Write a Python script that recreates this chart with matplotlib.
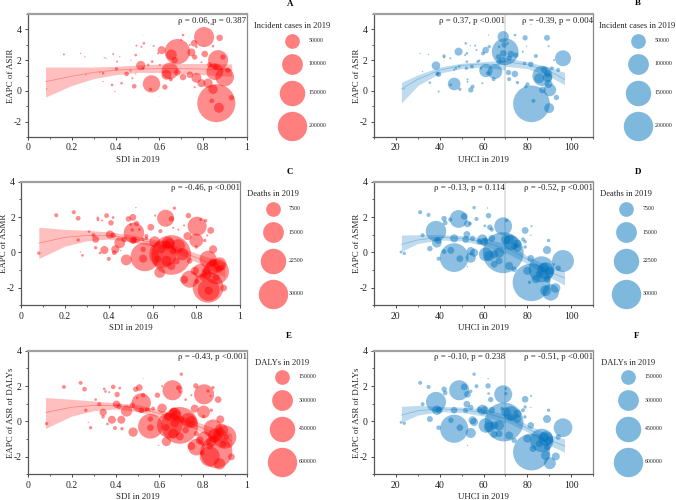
import numpy as np
import matplotlib
matplotlib.use('Agg')
import matplotlib.pyplot as plt

plt.rcParams['font.family'] = ['Liberation Serif', 'DejaVu Serif']
plt.rcParams['axes.unicode_minus'] = False

# A: incident cases / SDI
a_x = [.86, .682, .868, .804, .898, .853, .564, .648, .632, .515, .655, .61, .67, .746, .761, .758, .807, .872, .929, .845,
       .822, .792, .769, .739, .708, .682, .875, .89, .913, .83, .857, .625, .485, .45, .839, .652, .427, .559,
       .164, .24, .26, .264, .085, .283, .305, .328, .343, .348, .356, .389, .343, .384, .397, .404, .407, .419, .47, .492,
       .495, .518, .529, .526, .574, .477, .492, .468, .526, .549, .567, .594, .599, .602, .708, .70, .739, .769, .837, .845, .792, .761]
a_y = [-.8, 2.55, 2.0, 3.5, .9, 1.25, .45, 1.3, 1.05, 1.65, 2.35, 2.65, 2.0, 2.5, 2.2, 3.1, 2.4, -1.1, -.45, .1,
       .5, .5, .85, 1.05, .9, 1.2, 3.45, 2.2, 1.35, 1.7, 1.55, .25, .3, 1.1, -.65, .75, .5, .1,
       2.37, 2.44, 2.22, 1.04, .13, .13, 1.58, 1.21, 1.15, 2.16, 2.12, 2.4, .61, .39, -.04, 1.43, 1.9, 2.22, 2.0, 2.33,
       2.94, 2.87, 3.09, 3.63, 2.92, .82, 1.1, 1.32, 1.47, 1.69, 1.9, 2.44, -.36, 1.69, 3.63, 3.31, 2.98, 2.87, 4.34, 2.91, 1.86, .24]
a_size = [335000, 149000, 93000, 93000, 81000, 65000, 70000, 65000, 23000, 20000, 26000, 15000, 10000, 15000, 6600, 10000, 10000, 23000, 6600, 20000,
          20000, 15000, 23000, 10000, 10000, 10000, 10000, 6600, 6600, 6600, 6600, 6600, 5000, 5000, 5000, 3700, 1650, 2600,
          930, 400, 400, 400, 400, 100, 100, 400, 1650, 400, 400, 930, 400, 1650, 400, 2600, 930, 400, 400, 1650,
          930, 930, 1650, 100, 930, 930, 400, 930, 1650, 1650, 1650, 930, 100, 930, 1650, 930, 930, 1650, 930, 1650, 930, 930]

# B: incident cases / UHCI
b_x = [81.9, 69.9, 69, 96.3, 86.9, 65.2, 46.6, 61.1, 90.3, 90, 89.2, 89.2, 89.7, 87.7, 85.4, 86.9, 38.3, 48.6, 61, 59.8, 62.6, 69, 72.5, 74.8, 71.7, 69.4,
       79, 89, 83.9, 81.6, 78.7, 89.7, 94.1, 93.3, 82.8, 80.1, 79.3, 92.2, 91.2, 71.4, 74.3, 71.7, 75.5, 74.4, 81.7, 79.6, 77.9, 54.2, 55, 39.5, 39,
       35.5, 32.2, 31.1, 34.9, 42, 42, 44.8, 23.8, 39.5, 45, 49.2, 52.7, 52.7, 51.9, 54, 56.2, 56.8, 52.4, 51.6, 58, 57.3, 58.8, 54.7, 52.2, 47.4, 46.6,
       48.9, 52.4, 62.3, 59.5, 62, 64.6, 52.7, 71, 67.1, 66.8, 67.1, 68.7]
b_y = [-.84, 2.55, 3.52, 2.12, .97, 1.25, .45, 1.32, .06, -1.12, .88, 1.1, .45, 1.36, .82, .06, 1.64, 2.55, 2.65, 2.44, 2.87, 2.44, 2.4, 2.33, 2.12, 2.98,
       3.45, 3.45, 2.27, 1.73, 1.79, 2.91, 1.36, -.43, -.65, .43, .28, 2.0, 1.47, 1.19, 1.1, .76, .54, 3.63, 4.32, 2.91, 2.55, .06, .28, 1.08, 1.1,
       .54, 1.25, 2.44, 2.37, 2.27, 2.18, 2.12, .13, -.04, .39, .11, .6, .75, 3.09, 2.94, 2.94, 2.65, 2.44, 2.33, 1.96, 1.9, 1.47, 1.58, 1.47, 1.47, 1.36,
       1.58, 1.9, 3.63, .5, 1.15, .76, -.41, 3.09, 2.87, 2.22, 1.9, 2.0]
b_size = [311000, 165000, 30000, 59000, 93000, 50000, 37000, 41000, 37000, 23000, 20000, 10000, 15000, 10000, 23000, 10000, 17000, 15000, 10000, 3700, 2600, 10000, 10000, 6600, 6600, 6600,
          6600, 8300, 3700, 6600, 2600, 930, 3700, 6600, 3700, 3700, 2600, 930, 3700, 6600, 10000, 3700, 2600, 1650, 400, 400, 930, 6600, 3700, 6600, 3700,
          1650, 400, 400, 400, 2600, 930, 930, 400, 930, 1650, 2600, 930, 930, 1650, 400, 930, 930, 1650, 930, 1650, 1650, 1650, 3700, 2600, 1650, 930,
          1650, 1650, 400, 930, 3700, 3700, 100, 1650, 1650, 6600, 6600, 10000]

# C: deaths / SDI
c_x = [.08, .16, .24, .26, .26, .27, .28, .31, .33, .34, .34, .35, .35, .36, .37, .38, .39, .4, .41, .42, .405, .42, .43, .425, .45, .455, .48, .47,
       .515, .51, .49, .5, .527, .507, .524, .516, .54, .557, .565, .557, .572, .592, .61, .633, .636, .612, .66, .686, .686, .648, .671, .679, .664, .686,
       .70, .695, .718, .744, .717, .737, .76, .764, .744, .77, .804, .80, .80, .82, .843, .866, .85, .839, .877, .854, .892, .854, .857, .857, .925,
       .907, .877, .816, .793, .846, .904, .915, .804, .77, .557, .572, .511, .64, .664, .694, .625, .709, .846, .877, .83, .892]
c_y = [-.05, 2.1, 2.27, 1.93, .7, .02, -.17, 1.18, .97, .73, .26, 1.95, 1.84, -.04, 1.8, .13, 2.08, -.37, 1.67, 1.97, 1.01, .97, .17, -.02, .54, .11, -.43, .73,
       1.1, 1.98, 1.89, 1.57, 1.63, 1.27, 2.53, .73, 1.29, -.36, -.26, .17, .92, 1.42, .6, -1.14, 1.2, 2.08, 1.93, 1.89, -.15, -.11, .54, .49, -.49, -.77,
       2.5, 1.39, 1.29, 1.52, .36, -.11, .92, 2.08, -1.55, -1.52, 1.48, .67, .3, 1.85, 1.8, 1.24, .96, .67, .17, -.39, -1.09, -1.98, -2.13, -2.17, -2.02,
       -.67, -.86, -1.05, -1.05, -1.24, -.96, -.86, -1.65, -.49, .73, .79, .67, .17, .45, .07, -.39, -.49, -1.05, -.58, -1.42, -1.42]
c_size = [400, 580, 580, 800, 400, 65, 260, 260, 580, 1620, 400, 260, 260, 260, 150, 2300, 800, 580, 1040, 260, 2300, 1040, 2300, 800, 4100, 65, 4100, 1040,
          14600, 1620, 1040, 260, 1040, 400, 65, 1040, 260, 2300, 28600, 1040, 580, 1620, 4100, 4100, 580, 150, 10100, 1040, 54500, 26000, 5200, 3600, 3600, 2300,
          400, 150, 150, 150, 6500, 5200, 2300, 1040, 2300, 10100, 12700, 6500, 400, 260, 400, 1620, 150, 400, 2300, 10100, 22000, 32800, 16600, 2300, 1620,
          6500, 6500, 6500, 2300, 3600, 1620, 1040, 800, 1040, 400, 400, 1620, 2300, 2300, 1620, 1620, 1620, 2300, 2300, 1620, 1620]

# D: deaths / UHCI
d_x = [81.9, 69, 46.6, 38.3, 48.6, 69, 96.3, 86.5, 88.4, 90.7, 88.4, 92.9, 61, 62.6, 67.1, 72.5, 71.7, 75.5, 70.2, 59.5, 60.3, 58, 63.8, 54.2, 54.2, 55.7,
       52.4, 51.9, 55, 46.6, 45.1, 49.2, 42, 39.5, 38.7, 39.3, 35.5, 32.2, 31.1, 34.9, 22.3, 23.8, 42, 42.5, 44.8, 51.2, 52.7, 53.9, 55.7, 56.8, 61.8, 62.3,
       60.6, 62.9, 63.8, 61, 64.9, 71.7, 74, 81.6, 80, 83.9, 81, 79, 81.9, 78.1, 79, 81.6, 79, 89.7, 89, 94.1, 92.3, 52.7, 85.4, 89.2, 87.7, 90, 70.5, 67.1, 64.9, 75.5, 74]
d_y = [-1.7, -.02, -.3, 1.2, 1.89, 1.48, -.49, -.96, -1.05, -2.27, -2.17, -2.02, -.11, -.21, -.02, .54, .73, .26, .73, .73, .6, .6, .79, -.3, .07, -.02,
       1.01, .73, .79, .79, .11, -.36, .04, -.36, .54, .67, .21, .97, 2.27, 2.12, .02, -.06, 1.91, 1.67, 1.85, 2.04, 1.61, 1.63, 2.53, 1.89, 2.51, 2.08,
       1.5, 1.42, 1.29, .73, -.67, -.77, -.96, -.34, -1.05, -1.52, -1.7, 1.24, 1.48, .73, .6, .96, .3, .67, .13, -.9, -.67, -.82, -1.24, -1.52, -.86, -1.05, 1.8, -.49, -.11, .49, .36]
d_size = [49000, 58000, 28600, 14600, 11000, 11000, 16600, 23400, 10100, 9300, 4100, 3200, 6500, 3600, 3600, 7800, 3600, 2300, 3200, 3600, 2300, 1040, 1620, 3600, 2300, 2300,
          1620, 1620, 1040, 2300, 1620, 1620, 800, 580, 3200, 1620, 1040, 580, 580, 580, 260, 400, 1040, 800, 580, 1620, 1620, 400, 400, 580, 65, 1040,
          260, 1040, 580, 580, 1620, 2300, 1040, 1620, 2300, 2300, 400, 1620, 150, 580, 400, 65, 400, 400, 2300, 1040, 150, 65, 1620, 1620, 3200, 2300, 400, 1620, 2300, 2300, 1620]

# E: DALYs / SDI
e_x = [.085, .164, .24, .258, .264, .275, .286, .309, .325, .343, .343, .348, .354, .363, .371, .383, .389, .397, .407, .419, .404, .416, .426, .429, .45, .48, .476,
       .517, .508, .492, .498, .526, .526, .518, .541, .559, .559, .559, .571, .591, .612, .632, .612, .597, .66, .688, .70, .693, .72, .746, .693, .647, .67, .678, .663, .693,
       .731, .746, .761, .766, .746, .769, .804, .802, .802, .822, .845, .868, .834, .837, .878, .845, .898, .86, .83, .875, .929, .883, .853, .807, .784, .837, .906, .795, .769, .553,
       .64, .664, .7, .63, .72, .85, .88, .83, .89, .67]
e_y = [-.13, 1.95, 2.18, 1.82, .63, -.06, -.36, 1.23, .97, .51, .25, 1.84, 1.69, -.15, 1.65, .09, 1.95, -.38, 1.52, 1.88, .97, .85, .09, -.42, .59, -.61, .91,
       1.04, 1.91, 1.82, 1.33, 1.48, 2.42, .63, .66, .13, -.28, -.36, .72, 1.48, .74, -1.14, 1.99, -1.36, 1.76, 1.89, 2.67, 1.67, 1.23, 1.48, -.23, -.23, .44, .34, -.7, -.85,
       .06, -.04, .72, 2.01, -1.4, -1.46, 1.53, .53, .28, 1.72, 1.91, 1.23, 1.44, .63, .11, -.42, -.89, -1.74, -1.99, -2.41, -2.01, -.51, -.8, -.98, -1.08, -1.17, -.89, -1.8, -.7, .66,
       .25, .55, .1, -.35, -.5, -1, -.6, -1.4, -1.3, -.1]
e_size = [7800, 11000, 11000, 15000, 7800, 1200, 7800, 5000, 11000, 37500, 7800, 5000, 5000, 5000, 2800, 44600, 15000, 11000, 20000, 5000, 37500, 20000, 44600, 7800, 90000, 60800, 20000,
          260000, 31000, 20000, 5000, 15000, 500, 20000, 11000, 20000, 424000, 31000, 11000, 20000, 60800, 60800, 2800, 1200, 279000, 20000, 7800, 5000, 5000, 2800, 938000, 448000, 100000, 70000, 70000, 44600,
          150000, 100000, 44600, 20000, 44600, 194000, 279000, 112000, 7800, 7800, 7800, 31000, 2800, 7800, 44600, 243000, 380000, 714000, 279000, 90000, 31000, 124000, 124000, 150000, 44600, 70000, 20000, 15000, 20000, 7800,
          44600, 44600, 31000, 31000, 31000, 44600, 44600, 31000, 31000, 50000]

# F: DALYs / UHCI
f_x = [81.9, 69.4, 46.6, 38.3, 48.9, 69, 96.3, 86.6, 88.4, 90.3, 88.4, 93, 61.1, 62.6, 67.1, 72.5, 70.2, 75.5, 59.5, 60.6, 58, 63.8, 54.2, 55, 55.7,
       52.4, 51.9, 54.2, 46.6, 45.1, 49.2, 38.7, 39.8, 35.5, 32.2, 31.1, 34.9, 22.3, 23.8, 42, 42.5, 39.5, 51.2, 52.7, 54.2, 55.7, 56.8, 62.1, 62.1, 63.3, 62.3,
       64.9, 71.7, 74, 81.6, 80, 82.6, 79, 81.7, 78, 79, 81.6, 78.9, 89.7, 89, 94.1, 52.7, 85.4, 89.2, 87.7, 90, 70.2, 70.2, 67.1, 64.9, 75.5, 72.5, 68.5]
f_y = [-1.74, -.04, -.42, 1.1, 1.76, 1.53, -.36, -1.08, -.98, -2.37, -1.93, -1.99, -.23, -.32, -.23, .44, .53, .15, .66, .63, .66, .63, -.66, .06, -.04,
       .97, .63, .78, .63, .06, -.36, .63, .63, .13, .97, 2.18, 1.95, -.06, -.11, 1.82, 1.61, -.36, 1.95, 1.53, 1.7, 2.67, 1.99, 2.42, 2.01, 1.23, 1.57,
       -.74, -.8, -1.08, -.23, -.98, -1.55, 1.25, 1.44, .63, .81, .78, .25, .63, .13, -.89, -1.36, -1.27, -1.46, -.89, -1.08, 1.57, 1.85, -.7, -.23, .44, .25, .72]
f_size = [938000, 1043000, 547000, 279000, 279000, 226000, 243000, 380000, 150000, 100000, 60800, 44600, 150000, 79000, 70000, 150000, 60800, 44600, 70000, 44600, 20000, 31000, 70000, 44600, 44600,
          31000, 20000, 20000, 31000, 20000, 31000, 60800, 31000, 25000, 11000, 11000, 11000, 5000, 7800, 20000, 15000, 15000, 31000, 31000, 7800, 7800, 11000, 1200, 20000, 20000, 5000,
          31000, 44600, 20000, 31000, 44600, 31000, 31000, 2800, 11000, 7800, 1200, 7800, 7800, 44600, 20000, 1200, 31000, 31000, 60800, 44600, 7800, 5000, 31000, 44600, 44600, 31000, 7800]

# fit lines and confidence bands
sdi_fit_x = [.08, .2, .3, .4, .5, .6, .7, .8, .93]
a_mid = [.6, .95, 1.2, 1.35, 1.42, 1.45, 1.45, 1.42, 1.35]
a_lo = [-.4, .35, .8, 1.05, 1.2, 1.2, 1.15, 1.05, .95]
a_hi = [1.55, 1.55, 1.55, 1.6, 1.68, 1.75, 1.78, 1.78, 1.75]
c_mid = [.52, .85, .95, .95, .8, .55, .2, -.3, -1.0]
c_lo = [-.35, .35, .65, .75, .6, .35, 0, -.55, -1.4]
c_hi = [1.42, 1.3, 1.25, 1.15, 1.0, .75, .4, -.05, -.6]
e_mid = [.5, .8, .9, .9, .75, .45, .1, -.4, -1.1]
e_lo = [-.4, .3, .6, .7, .55, .25, -.1, -.65, -1.5]
e_hi = [1.35, 1.25, 1.15, 1.05, .95, .65, .3, -.15, -.7]

uhci_left_x = [22.5, 30, 40, 50, 60, 70]
uhci_right_x = [70, 80, 90, 97]
b_left = ([.12, .75, 1.35, 1.65, 1.75, 1.7], [-.8, .35, 1.15, 1.45, 1.55, 1.35], [.55, 1.05, 1.55, 1.8, 1.9, 2.0])
b_right = ([1.9, 1.7, 1.3, .75], [1.6, 1.45, .95, .4], [2.15, 1.9, 1.55, 1.2])
d_left = ([.45, .7, .85, .8, .6, .2], [.05, .5, .7, .65, .4, -.1], [.98, 1.0, 1.0, .95, .8, .5])
d_right = ([.3, -.4, -1.1, -1.45], [0, -.65, -1.4, -1.85], [.55, -.2, -.8, -1.05])
f_left = ([.35, .6, .7, .65, .5, .15], [-.05, .35, .55, .5, .3, -.1], [.85, .9, .85, .8, .7, .4])
f_right = ([.25, -.4, -1.05, -1.4], [0, -.6, -1.35, -1.75], [.5, -.2, -.75, -1.0])

RED = '#ff0000'
BLUE = '#0072bd'
R_MAX = 14.7  # radius in px of the largest legend circle
FS = 6.4  # panel text size

sizes_inc = [50000, 100000, 150000, 200000]
sizes_dth = [7500, 15000, 22500, 30000]
sizes_dal = [150000, 300000, 450000, 600000]

W, H = 676, 500
fig = plt.figure(figsize=(W / 100, H / 100), dpi=100)


def px_axes(left, right, top, bottom):
    return fig.add_axes([left / W, 1 - bottom / H, (right - left) / W, (bottom - top) / H])


def marker(v, vmax):
    d = 2 * R_MAX * np.sqrt(np.asarray(v, dtype=float) / vmax) * 0.72
    return d ** 2


def style(ax, sdi, ylim, ylabel, ylab_x):
    ax.set_ylim(*ylim)
    if sdi:
        ax.set_xlim(0, 1)
        ax.set_xticks([0, .2, .4, .6, .8, 1])
        ax.set_xticklabels(['0', '0.2', '0.4', '0.6', '0.8', '1'])
        ax.set_xticks(np.arange(.1, 1, .2), minor=True)
        ax.set_xlabel('SDI in 2019', fontsize=FS, labelpad=2.8)
    else:
        ax.set_xlim(10, 110)
        ax.set_xticks([20, 40, 60, 80, 100])
        ax.set_xticks([10, 30, 50, 70, 90, 110], minor=True)
        ax.set_xlabel('UHCI in 2019', fontsize=FS, labelpad=2.8)
        ax.axvline(70, color='#dddddd', lw=1.2, zorder=1)
    ax.set_yticks([-2, 0, 2, 4])
    ax.set_yticks(np.arange(ylim[0], ylim[1] + 1, 2), minor=True)
    ax.set_ylabel(ylabel, fontsize=FS, color='#222222')
    ax.xaxis.label.set_color('#222222')
    ax.yaxis.set_label_coords(ylab_x, .5)
    ax.tick_params(axis='both', which='major', labelsize=7, length=2.5, width=.7, color='#444444', labelcolor='#222222', pad=2)
    ax.tick_params(axis='both', which='minor', length=1.3, width=.6, color='#444444')
    for s in ax.spines.values():
        s.set_linewidth(.9)
        s.set_color('#555555')
    ax.spines['top'].set_linewidth(1.6)
    ax.spines['top'].set_color('#a0a0a0')
    ax.spines['right'].set_color('#888888')


def band(ax, x, mid, lo, hi, color):
    ax.fill_between(x, lo, hi, color=color, alpha=.25, lw=0, zorder=3)
    ax.plot(x, mid, color=color, alpha=.3, lw=.6, zorder=3)


overlay = fig.add_axes([0, 0, 1, 1], zorder=5)
overlay.set_xlim(0, W)
overlay.set_ylim(H, 0)
overlay.axis('off')


def size_legend(letter, lx, ly, title, tx, ty, cx, y0, lab_x, sizes, color):
    overlay.text(lx, ly, letter, fontsize=6.4, fontweight='bold', ha='center', va='center')
    overlay.text(tx, ty, title, fontsize=6.1, ha='center', va='center', color='#222222')
    vmax = sizes[-1]
    y = y0
    prev_r = None
    for v in sizes:
        r = R_MAX * np.sqrt(v / vmax)
        if prev_r is not None:
            y += prev_r + 5.5 + r
        overlay.scatter([cx], [y], s=marker(v, vmax), color=color, alpha=.5, lw=0)
        overlay.text(lab_x, y, str(v), fontsize=4.2, ha='left', va='center', color='#222222')
        prev_r = r


# A
ax = px_axes(28, 247, 14, 137)
style(ax, True, (-3, 5), 'EAPC of ASIR', -.06)
ax.scatter(a_x, a_y, s=marker(a_size, 200000), color=RED, alpha=.45, lw=0, zorder=2)
band(ax, sdi_fit_x, a_mid, a_lo, a_hi, RED)
ax.text(.998, .945, 'ρ = 0.06, p = 0.387', transform=ax.transAxes, ha='right', va='center', fontsize=FS, color='#222222')
size_legend('A', 290, 4, 'Incident cases in 2019', 292, 26, 292, 40.7, 309, sizes_inc, RED)

# B
ax = px_axes(374, 593, 14, 137)
style(ax, False, (-3, 5), 'EAPC of ASIR', -.06)
ax.scatter(b_x, b_y, s=marker(b_size, 200000), color=BLUE, alpha=.45, lw=0, zorder=2)
band(ax, uhci_left_x, *b_left, BLUE)
band(ax, uhci_right_x, *b_right, BLUE)
ax.text(69.7, 4.55, 'ρ = 0.37, p <0.001', ha='right', va='center', fontsize=FS, color='#222222')
ax.text(110, 4.55, 'ρ = -0.39, p = 0.004', ha='right', va='center', fontsize=FS, color='#222222')
size_legend('B', 638, 3, 'Incident cases in 2019', 637, 26, 638, 40.7, 655, sizes_inc, BLUE)

# C
ax = px_axes(21.3, 240, 181.7, 305.3)
style(ax, True, (-3, 4), 'EAPC of ASMR', -.06)
ax.scatter(c_x, c_y, s=marker(c_size, 30000), color=RED, alpha=.45, lw=0, zorder=2)
band(ax, sdi_fit_x, c_mid, c_lo, c_hi, RED)
ax.text(.998, .945, 'ρ = -0.46, p <0.001', transform=ax.transAxes, ha='right', va='center', fontsize=FS, color='#222222')
size_legend('C', 290, 172, 'Deaths in 2019', 273, 194, 273, 209, 289, sizes_dth, RED)

# D
ax = px_axes(374, 593, 181.7, 305.3)
style(ax, False, (-3, 4), 'EAPC of ASMR', -.06)
ax.scatter(d_x, d_y, s=marker(d_size, 30000), color=BLUE, alpha=.45, lw=0, zorder=2)
band(ax, uhci_left_x, *d_left, BLUE)
band(ax, uhci_right_x, *d_right, BLUE)
ax.text(69.7, 3.65, 'ρ = -0.13, p = 0.114', ha='right', va='center', fontsize=FS, color='#222222')
ax.text(110, 3.65, 'ρ = -0.52, p <0.001', ha='right', va='center', fontsize=FS, color='#222222')
size_legend('D', 638, 172, 'Deaths in 2019', 626, 194, 626, 209, 643, sizes_dth, BLUE)

# E
ax = px_axes(28, 247, 350.7, 474.3)
style(ax, True, (-3, 4), 'EAPC of ASR of DALYs', -.06)
ax.scatter(e_x, e_y, s=marker(e_size, 600000), color=RED, alpha=.45, lw=0, zorder=2)
band(ax, sdi_fit_x, e_mid, e_lo, e_hi, RED)
ax.text(.998, .945, 'ρ = -0.43, p <0.001', transform=ax.transAxes, ha='right', va='center', fontsize=FS, color='#222222')
size_legend('E', 289, 336, 'DALYs in 2019', 282, 363, 282, 377, 299, sizes_dal, RED)

# F
ax = px_axes(374, 593, 350.7, 474.3)
style(ax, False, (-3, 4), 'EAPC of ASR of DALYs', -.06)
ax.scatter(f_x, f_y, s=marker(f_size, 600000), color=BLUE, alpha=.45, lw=0, zorder=2)
band(ax, uhci_left_x, *f_left, BLUE)
band(ax, uhci_right_x, *f_right, BLUE)
ax.text(69.7, 3.65, 'ρ = -0.10, p = 0.238', ha='right', va='center', fontsize=FS, color='#222222')
ax.text(110, 3.65, 'ρ = -0.51, p <0.001', ha='right', va='center', fontsize=FS, color='#222222')
size_legend('F', 637, 336, 'DALYs in 2019', 628, 363, 628, 377, 645, sizes_dal, BLUE)

fig.savefig('out.png', dpi=100)
